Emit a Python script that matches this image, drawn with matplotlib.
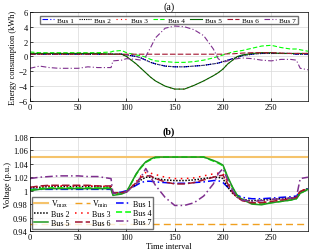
import matplotlib
matplotlib.use('Agg')
import matplotlib.pyplot as plt

plt.rcParams['font.family'] = ['Liberation Serif', 'DejaVu Serif']
plt.rcParams['font.size'] = 6
plt.rcParams['mathtext.fontset'] = 'stix'

t = [0, 10, 20, 30, 40, 50, 60, 70, 84, 86, 95, 100, 110, 115, 120, 125, 130, 140, 150, 160,
     170, 180, 190, 195, 200, 205, 210, 215, 220, 230, 240, 250, 260, 270, 276, 280, 288]

# (a) energy consumption, kWh
e_bus1 = [0.3, 0.3, 0.3, 0.3, 0.3, 0.3, 0.3, 0.3, 0.3, 0.3, 0.3, 0.2, 0.0, -0.2, -0.5, -0.8, -1.0, -1.3, -1.4, -1.4,
          -1.3, -1.2, -1.0, -0.9, -0.7, -0.5, -0.3, -0.1, 0.1, 0.3, 0.4, 0.4, 0.4, 0.4, 0.3, 0.3, 0.3]
e_bus2 = [0.3, 0.3, 0.3, 0.3, 0.3, 0.3, 0.3, 0.3, 0.3, 0.3, 0.3, 0.2, 0.0, -0.2, -0.5, -0.8, -1.0, -1.3, -1.4, -1.4,
          -1.3, -1.2, -1.0, -0.9, -0.7, -0.5, -0.3, -0.1, 0.1, 0.3, 0.4, 0.4, 0.4, 0.4, 0.3, 0.3, 0.3]
e_bus3 = [0.4, 0.4, 0.4, 0.4, 0.4, 0.4, 0.4, 0.4, 0.3, 0.3, 0.3, 0.0, -1.0, -1.6, -2.2, -2.8, -3.3, -4.0, -4.4, -4.4,
          -3.9, -3.3, -2.6, -2.2, -1.7, -1.0, -0.5, 0.0, 0.2, 0.4, 0.5, 0.5, 0.4, 0.4, 0.4, 0.4, 0.4]
e_bus4 = [0.6, 0.5, 0.5, 0.5, 0.5, 0.5, 0.5, 0.5, 0.6, 0.7, 0.8, 0.5, 0.2, 0.1, -0.1, -0.4, -0.6, -0.7, -0.8, -0.8,
          -0.7, -0.5, -0.2, 0.0, 0.2, 0.4, 0.6, 0.7, 0.8, 1.1, 1.4, 1.5, 1.2, 1.0, 1.0, 0.9, 0.7]
e_bus5 = [0.4, 0.4, 0.4, 0.4, 0.4, 0.4, 0.4, 0.4, 0.3, 0.3, 0.3, 0.0, -1.0, -1.6, -2.2, -2.8, -3.3, -4.0, -4.4, -4.4,
          -3.9, -3.3, -2.6, -2.2, -1.7, -1.0, -0.5, 0.0, 0.2, 0.4, 0.5, 0.5, 0.4, 0.4, 0.4, 0.4, 0.4]
e_bus6 = [0.3, 0.3, 0.3, 0.3, 0.3, 0.3, 0.3, 0.3, 0.3, 0.3, 0.3, 0.3, 0.3, 0.3, 0.3, 0.3, 0.3, 0.3, 0.3, 0.3,
          0.3, 0.3, 0.3, 0.3, 0.3, 0.35, 0.35, 0.4, 0.45, 0.5, 0.5, 0.5, 0.45, 0.4, 0.4, 0.4, 0.4]
e_bus7 = [-1.6, -1.3, -1.5, -1.6, -1.6, -1.6, -1.4, -1.5, -1.5, -0.6, -0.5, -0.3, -0.4, -0.5, 0.0, 1.2, 2.5, 3.8, 4.1, 4.0,
          3.6, 2.8, 1.0, -0.3, -0.8, -0.6, -0.4, -0.3, -0.2, -0.3, -0.5, -0.6, -0.4, -0.4, -0.5, -1.6, -1.8]

# (b) voltage, p.u.
v_bus1 = [1.002, 1.002, 1.002, 1.002, 1.002, 1.002, 1.002, 1.002, 1.002, 0.996, 0.998, 1.0, 1.008, 1.012, 1.014, 1.014,
          1.013, 1.012, 1.011, 1.011, 1.012, 1.013, 1.015, 1.015, 1.012, 1.005, 0.998, 0.993, 0.99, 0.988, 0.988,
          0.989, 0.99, 0.991, 0.992, 0.998, 1.003]
v_bus2 = [1.004, 1.005, 1.006, 1.006, 1.006, 1.006, 1.006, 1.006, 1.005, 0.996, 0.997, 0.999, 1.01, 1.016, 1.02, 1.02,
          1.018, 1.016, 1.015, 1.015, 1.016, 1.018, 1.02, 1.02, 1.018, 1.005, 0.996, 0.99, 0.987, 0.985, 0.986,
          0.987, 0.988, 0.989, 0.99, 0.998, 1.003]
v_bus3 = [1.005, 1.006, 1.007, 1.007, 1.007, 1.007, 1.007, 1.007, 1.006, 0.996, 0.997, 0.998, 1.013, 1.022, 1.027,
          1.026, 1.024, 1.02, 1.018, 1.018, 1.019, 1.022, 1.025, 1.026, 1.025, 1.012, 0.998, 0.99, 0.986, 0.983,
          0.983, 0.984, 0.986, 0.988, 0.99, 0.999, 1.004]
v_bus4 = [1.001, 1.003, 1.004, 1.004, 1.004, 1.004, 1.004, 1.004, 1.004, 0.994, 0.996, 0.998, 1.024, 1.034, 1.042,
          1.046, 1.049, 1.05, 1.05, 1.05, 1.05, 1.05, 1.044, 1.041, 1.037, 1.019, 1.004, 0.992, 0.987, 0.981, 0.98,
          0.982, 0.984, 0.986, 0.988, 0.996, 1.002]
v_bus5 = [1.0, 1.002, 1.003, 1.003, 1.003, 1.003, 1.003, 1.003, 1.003, 0.993, 0.995, 0.998, 1.025, 1.035, 1.043,
          1.047, 1.05, 1.05, 1.05, 1.05, 1.05, 1.05, 1.045, 1.042, 1.038, 1.02, 1.005, 0.992, 0.987, 0.98, 0.979,
          0.982, 0.984, 0.986, 0.988, 0.996, 1.002]
v_bus6 = [1.005, 1.007, 1.008, 1.008, 1.008, 1.008, 1.008, 1.007, 1.007, 0.997, 0.997, 0.998, 1.012, 1.02, 1.022,
          1.022, 1.018, 1.013, 1.01, 1.01, 1.012, 1.016, 1.02, 1.022, 1.023, 1.01, 0.997, 0.99, 0.985, 0.982, 0.982,
          0.984, 0.986, 0.988, 0.99, 0.999, 1.003]
v_bus7 = [1.018, 1.02, 1.021, 1.022, 1.022, 1.022, 1.021, 1.021, 1.018, 0.996, 0.997, 0.998, 1.01, 1.02, 1.033, 1.02,
          1.008, 0.99, 0.978, 0.978, 0.982, 0.992, 1.01, 1.025, 1.033, 1.015, 1.0, 0.99, 0.986, 0.984, 0.985, 0.987,
          0.988, 0.989, 0.99, 1.018, 1.02]
v_max = 1.05
v_min = 0.95

styles = [
    ('Bus 1', '#0000FF', (0, (5, 2, 1, 2))),
    ('Bus 2', '#000000', (0, (1, 1))),
    ('Bus 3', '#FF0000', (0, (1, 3))),
    ('Bus 4', '#00FF00', (0, (4, 2))),
    ('Bus 5', '#006400', '-'),
    ('Bus 6', '#A2142F', (0, (5, 2))),
    ('Bus 7', '#7E2F8E', (0, (5, 2, 1, 2))),
]

fig = plt.figure(figsize=(3.12, 2.53), dpi=100)
ax1 = fig.add_axes([0.096, 0.597, 0.891, 0.352])
ax2 = fig.add_axes([0.096, 0.083, 0.891, 0.372])

for (name, col, ls), y in zip(styles, [e_bus1, e_bus2, e_bus3, e_bus4, e_bus5, e_bus6, e_bus7]):
    ax1.plot(t, y, color=col, linestyle=ls, lw=0.8, label=name)

ax1.set_xlim(0, 288)
ax1.set_ylim(-6, 6)
ax1.set_yticks([-6, -4, -2, 0, 2, 4, 6])
ax1.set_xticks([0, 50, 100, 150, 200, 250])
ax1.set_ylabel('Energy consumption (kWh)', labelpad=1)
ax1.set_title('(a)', pad=2)
ax1.legend(loc='upper center', ncol=7, fontsize=5.2, handlelength=1.7, handletextpad=0.4,
           columnspacing=0.7, borderpad=0.2, fancybox=False, edgecolor='0.3',
           bbox_to_anchor=(0.5, 1.0))

h = []
h += ax2.plot([0, 288], [v_max, v_max], color='#F5C36B', lw=1.5, label=r'V$_{\rm max}$')
h += ax2.plot([0, 288], [v_min, v_min], color='#F0A020', lw=1.0, linestyle=(0, (5, 3)), label=r'V$_{\rm min}$')
for (name, col, ls), y in zip(styles, [v_bus1, v_bus2, v_bus3, v_bus4, v_bus5, v_bus6, v_bus7]):
    c = '#1F9A1F' if name == 'Bus 5' else col
    h += ax2.plot(t, y, color=c, linestyle=ls, lw=1.1, label=name)

ax2.set_xlim(0, 288)
ax2.set_ylim(0.94, 1.08)
ax2.set_yticks([0.94, 0.96, 0.98, 1.0, 1.02, 1.04, 1.06, 1.08])
ax2.set_yticklabels(['0.94', '0.96', '0.98', '1', '1.02', '1.04', '1.06', '1.08'])
ax2.set_xticks([0, 50, 100, 150, 200, 250])
ax2.set_xlabel('Time interval', labelpad=1)
ax2.set_ylabel('Voltage (p.u.)', labelpad=1)
ax2.set_title('(b)', pad=2, fontweight='bold')
# row-wise legend order
order = [0, 3, 6, 1, 4, 7, 2, 5, 8]
ax2.legend([h[i] for i in order], [h[i].get_label() for i in order], loc='lower left', ncol=3,
           fontsize=5.8, handlelength=1.8, handletextpad=0.3, columnspacing=0.7, borderpad=0.2,
           labelspacing=0.1, fancybox=False, edgecolor='0.3', borderaxespad=0.3)

for ax in (ax1, ax2):
    ax.grid(True, color='0.85', lw=0.5)
    ax.tick_params(direction='in', length=2, width=0.5, pad=1.5, labelsize=6)
    for s in ax.spines.values():
        s.set_linewidth(0.5)
    ax.set_axisbelow(True)

fig.savefig('out.png', dpi=100)
